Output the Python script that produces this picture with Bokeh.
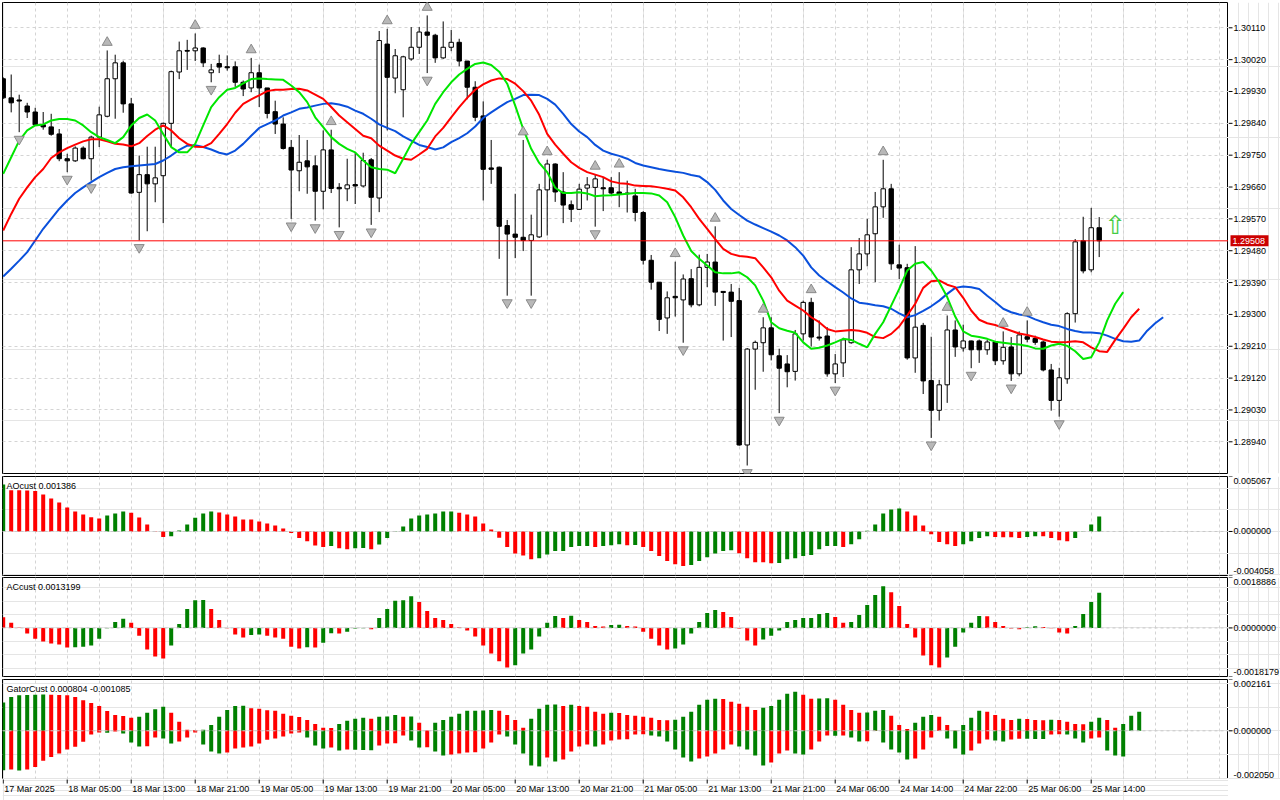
import numpy as np
from bokeh.plotting import figure
from bokeh.models import Range1d, FixedTicker, Span, Label, Grid
from bokeh.layouts import column, row
from bokeh.embed import file_html
from bokeh.resources import INLINE
from bokeh.core.properties import value

# ---------------- data (prices in points = 1e-5) ----------------
OPEN_PTS = [129966,129912,129906,129889,129872,129836,129830,129810,129740,129734,
            129770,129740,129801,129860,129966,130011,129895,129645,129695,129669,
            129692,129840,129985,130046,130045,130053,129983,130009,130000,130000,
            129956,129940,129983,129940,129873,129838,129772,129706,129734,129720,
            129648,129765,129659,129655,129667,129663,129737,129629,130064,129968,
            129935,130022,130055,130098,130089,130025,130055,130069,130016,129942,
            129861,129714,129716,129551,129527,129518,129509,129519,129652,129725,
            129646,129610,129597,129657,129659,129658,129658,129646,129643,129635,
            129588,129453,129391,129290,129351,129341,129401,129327,129433,129448,
            129365,129363,129339,128931,129202,129220,129262,129183,129160,129139,
            129245,129334,129236,129239,129132,129163,129220,129426,129471,129528,
            129604,129655,129440,129432,129177,129269,129113,129029,129101,129256,
            129205,129225,129225,129200,129222,129169,129208,129132,129237,129232,
            129222,129143,129057,129118,129302,129508,129426,129545]
HIGH_PTS = [129970,129978,129921,129898,129884,129872,129867,129824,129754,129775,
            129775,129805,129887,130046,130034,130017,129912,129749,129774,129774,
            129842,129989,130071,130076,130094,130055,130008,130034,130032,130015,
            129961,130025,130006,129940,129904,129857,129793,129807,129793,129749,
            129820,129822,129671,129740,129757,129757,129742,130101,130107,130050,
            130031,130112,130112,130145,130093,130128,130104,130079,130016,129959,
            129902,129793,129718,129567,129641,129793,129582,129669,129737,129727,
            129702,129622,129669,129688,129696,129688,129688,129702,129678,129655,
            129592,129468,129391,129365,129449,129413,129428,129469,129471,129549,
            129365,129386,129375,129205,129226,129292,129292,129203,129185,129256,
            129339,129347,129283,129264,129188,129234,129490,129516,129570,129646,
            129737,129669,129497,129443,129493,129276,129237,129115,129297,129283,
            129271,129226,129229,129228,129225,129252,129236,129252,129283,129240,
            129226,129160,129149,129306,129513,129576,129601,129575]
LOW_PTS = [129909,129871,129815,129855,129833,129822,129805,129733,129702,129731,
           129738,129678,129773,129857,129853,129870,129641,129509,129535,129617,
           129558,129773,129965,129991,130016,129999,129956,129982,129989,129943,
           129917,129928,129886,129854,129810,129766,129570,129648,129641,129565,
           129597,129643,129546,129620,129612,129659,129553,129589,129820,129925,
           129857,130017,130036,129982,130011,130022,130044,130001,129908,129846,
           129622,129669,129457,129353,129459,129479,129353,129516,129523,129618,
           129558,129561,129595,129622,129548,129592,129638,129603,129588,129563,
           129441,129370,129253,129245,129294,129220,129320,129323,129377,129324,
           129226,129236,128929,128873,129087,129138,129170,129021,129094,129113,
           129226,129209,129226,129124,129106,129123,129217,129386,129436,129391,
           129573,129426,129400,129172,129135,129075,128951,129000,129050,129180,
           129195,129148,129163,129186,129157,129158,129112,129125,129221,129214,
           129139,129028,129011,129104,129277,129416,129419,129462]
CLOSE_PTS = [129912,129898,129903,129872,129836,129830,129809,129740,129734,129770,
             129740,129801,129864,129966,130011,129895,129643,129695,129669,129686,
             129840,129986,130045,130044,130053,130011,129991,129999,129997,129956,
             129937,129983,129940,129868,129838,129769,129708,129730,129717,129648,
             129765,129656,129655,129666,129663,129735,129631,130074,129970,130031,
             130028,130055,130098,130089,130025,130055,130069,130016,129942,129857,
             129710,129710,129549,129527,129518,129509,129525,129652,129725,129646,
             129609,129597,129654,129666,129683,129655,129643,129640,129641,129588,
             129453,129391,129286,129347,129347,129400,129327,129433,129448,129363,
             129362,129337,128931,129202,129221,129262,129186,129148,129138,129245,
             129334,129236,129233,129132,129160,129228,129426,129471,129525,129604,
             129655,129443,129431,129177,129264,129112,129029,129101,129256,129208,
             129225,129200,129200,129222,129169,129207,129132,129242,129230,129221,
             129143,129057,129121,129302,129505,129423,129545,129508]

# Alligator lines (already shifted forward: jaw +8, teeth +5, lips +3)
JAW_PTS = [129407,129429,129452,129476,129509,129542,129570,129598,129622,129643,
           129659,129674,129688,129700,129711,129716,129719,129721,129723,129725,
           129735,129749,129765,129777,129778,129773,129766,129757,129752,129763,
           129782,129805,129827,129838,129848,129862,129871,129881,129885,129890,
           129895,129897,129893,129887,129876,129867,129853,129837,129827,129818,
           129803,129791,129779,129773,129766,129772,129787,129798,129812,129831,
           129855,129871,129886,129900,129909,129920,129921,129920,129909,129893,
           129867,129838,129817,129801,129779,129763,129754,129748,129740,129728,
           129721,129716,129711,129707,129703,129700,129694,129690,129674,129652,
           129622,129598,129581,129565,129554,129544,129534,129523,129509,129490,
           129466,129433,129410,129393,129377,129362,129345,129333,129330,129326,
           129323,129316,129303,129292,129298,129310,129323,129339,129358,129375,
           129379,129377,129372,129353,129335,129316,129306,129300,129296,129286,
           129278,129271,129267,129259,129253,129249,129249,129247,129240,129231,
           129224,129223,129226,129254,129275,129292]
TEETH_PTS = [129537,129584,129627,129659,129688,129711,129742,129758,129770,129780,
             129789,129795,129795,129789,129782,129780,129775,129784,129804,129822,
             129834,129820,129798,129782,129774,129773,129784,129810,129838,129870,
             129895,129908,129919,129931,129935,129935,129937,129938,129933,129921,
             129909,129886,129862,129843,129824,129805,129798,129777,129763,129749,
             129740,129737,129752,129768,129803,129827,129857,129886,129912,129935,
             129950,129961,129967,129965,129952,129931,129904,129864,129810,129780,
             129754,129730,129714,129702,129695,129688,129676,129671,129669,129664,
             129663,129662,129659,129655,129650,129631,129603,129570,129542,129513,
             129485,129471,129465,129463,129459,129433,129405,129367,129339,129325,
             129311,129292,129278,129259,129252,129254,129256,129254,129248,129236,
             129233,129245,129266,129297,129330,129375,129394,129396,129384,129377,
             129347,129311,129285,129275,129270,129262,129254,129246,129242,129236,
             129229,129223,129221,129222,129224,129221,129207,129196,129194,129228,
             129259,129292,129316]
LIPS_PTS = [129697,129744,129791,129820,129834,129837,129848,129852,129852,129848,
            129834,129815,129801,129793,129784,129801,129834,129855,129865,129848,
            129810,129773,129758,129758,129782,129834,129886,129914,129935,129940,
            129953,129965,129967,129965,129964,129963,129947,129928,129900,129857,
            129829,129801,129782,129768,129758,129735,129716,129711,129709,129699,
            129740,129782,129815,129848,129895,129928,129956,129978,129994,130008,
            130012,130005,129986,129952,129890,129824,129768,129728,129702,129658,
            129643,129643,129645,129642,129634,129636,129637,129639,129641,129643,
            129643,129642,129636,129617,129575,129523,129479,129457,129438,129419,
            129416,129416,129419,129405,129382,129339,129278,129261,129254,129248,
            129221,129203,129206,129212,129221,129231,129228,129217,129207,129245,
            129278,129325,129372,129424,129443,129448,129424,129391,129349,129294,
            129252,129240,129236,129231,129223,129220,129217,129215,129211,129204,
            129203,129212,129217,129211,129196,129174,129179,129221,129283,129330,
            129363]

FRACTAL_UP = [13, 24, 31, 41, 48, 53, 65, 68, 74, 77, 84, 89, 95, 101, 110, 118, 125, 128]
FRACTAL_DN = [2, 8, 11, 17, 26, 36, 39, 42, 46, 53, 63, 66, 74, 85, 93, 97, 104, 116, 121, 126, 132]
SIGNAL_BAR = 139
SIGNAL_PRICE = 1.29554
LAST_PRICE = 1.29508

# indicators in units of 1e-4
AO_E4 = [43.3,38.1,38.0,37.8,37.2,34.1,30.4,26.7,22.1,18.4,
         15.7,13.2,12.0,14.7,16.6,18.4,17.2,12.9,6.5,0.3,
         -5.2,-4.3,0.9,6.5,12.6,16.6,18.4,17.5,15.7,13.8,
         11.1,11.0,9.2,7.4,5.5,2.8,-1.5,-6.1,-8.9,-12.9,
         -14.4,-13.5,-15.4,-16.3,-15.4,-15.3,-16.3,-12.0,-6.1,0.2,
         4.6,12.0,14.7,15.7,16.6,18.4,18.5,17.2,15.7,13.8,
         7.4,1.8,-5.8,-14.4,-20.3,-22.1,-25.5,-24.6,-21.2,-18.1,
         -18.0,-14.4,-13.5,-13.4,-14.4,-13.5,-12.6,-11.7,-12.6,-12.5,
         -14.4,-18.1,-22.7,-27.3,-30.1,-31.9,-31.0,-27.3,-23.7,-20.3,
         -18.1,-17.2,-20.0,-24.6,-28.3,-28.4,-29.2,-29.1,-25.5,-24.6,
         -22.7,-21.8,-16.3,-13.5,-13.4,-14.4,-11.7,-7.1,0.6,6.5,
         16.6,20.3,21.2,18.4,14.7,5.5,-2.5,-9.8,-11.7,-13.5,
         -11.7,-8.9,-6.1,-4.3,-5.2,-5.3,-5.4,-6.1,-5.2,-4.3,
         -4.4,-6.1,-8.0,-8.9,-6.1,-0.3,6.5,13.86]
AO_PREV_E4 = 42.0
AC_E4 = [4.0,1.9,0.1,-2.1,-4.0,-5.1,-5.8,-6.2,-7.3,-7.25,
         -7.0,-6.6,-4.0,-0.1,2.2,3.4,1.9,-2.9,-8.1,-10.7,
         -11.4,-6.6,1.5,7.1,10.4,10.45,7.1,3.0,-0.1,-2.5,
         -3.6,-2.6,-2.5,-2.9,-3.6,-4.0,-7.0,-7.7,-7.2,-7.3,
         -5.5,-2.0,-2.1,-1.4,-0.2,-0.1,-0.5,3.7,7.1,10.2,
         10.4,11.9,9.7,6.3,3.7,3.0,1.5,0.2,-1.0,-3.2,
         -6.6,-9.6,-12.5,-14.8,-14.0,-9.6,-8.1,-3.2,1.9,4.5,
         3.7,4.6,3.0,2.2,0.7,0.5,1.1,1.15,0.7,0.5,
         -1.4,-4.0,-6.6,-8.1,-7.7,-6.2,-2.1,2.2,5.6,6.7,
         6.0,4.1,-0.2,-4.7,-6.6,-4.3,-2.9,-1.0,2.2,3.0,
         3.7,3.75,5.2,5.6,4.1,1.9,2.2,4.8,8.6,12.3,
         15.6,13.4,8.2,1.5,-3.6,-10.3,-14.0,-14.8,-11.1,-7.0,
         -1.7,1.9,4.5,4.4,2.2,0.7,-0.2,-0.5,0.2,0.6,
         0.4,-0.1,-1.7,-2.1,0.7,5.2,9.7,13.199]
AC_PREV_E4 = 4.5
GATOR_UP_E4 = [11.9,14.2,15.0,15.1,15.2,15.25,15.2,15.1,15.0,14.2,
               12.9,11.7,10.4,8.3,6.7,6.2,5.5,5.9,7.6,9.1,
               10.1,7.6,3.8,0.4,0.3,0.5,2.5,5.9,8.8,10.5,
               10.6,9.5,9.3,8.7,8.4,7.2,6.3,5.8,4.6,2.9,
               1.3,1.2,2.9,4.2,5.1,5.5,5.1,5.9,6.0,6.7,
               5.9,6.0,3.4,0.1,3.4,4.6,5.9,7.2,8.4,8.5,
               8.6,8.8,8.4,6.7,4.6,1.3,5.1,9.3,11.0,11.1,
               10.5,11.0,10.5,10.1,8.0,7.2,7.6,7.5,6.7,6.3,
               5.9,5.5,4.6,4.5,4.7,5.9,8.0,11.0,13.1,13.5,
               13.4,12.2,11.4,10.1,8.8,9.7,10.5,13.1,15.6,16.4,
               15.2,13.5,13.6,13.7,13.1,11.0,8.8,7.6,7.7,8.4,
               8.8,6.3,2.5,0.8,3.4,5.9,6.7,5.9,2.5,0.1,
               2.5,5.5,8.4,8.0,6.7,5.1,4.6,5.1,5.0,4.6,
               4.5,4.7,4.6,3.8,2.9,2.8,3.8,5.5,4.6,1.3,
               2.9,6.3,8.04]
GATOR_UP_PREV_E4 = 11.0
GATOR_DN_E4 = [-16.6,-16.3,-16.7,-16.3,-15.2,-12.6,-11.0,-9.5,-7.9,-6.7,
               -4.6,-1.5,-0.7,-0.8,-0.3,-1.1,-4.9,-6.6,-6.5,-2.8,
               -3.2,-5.3,-4.5,-2.8,-0.7,-5.8,-8.7,-9.5,-9.1,-7.4,
               -7.0,-6.6,-5.3,-3.8,-3.2,-2.4,-1.1,-0.7,-2.8,-6.2,
               -7.4,-7.0,-8.3,-7.9,-8.0,-8.1,-8.2,-6.2,-5.3,-5.2,
               -2.0,-4.1,-7.0,-6.9,-8.7,-10.4,-10.0,-9.5,-9.1,-9.0,
               -7.4,-4.9,-1.5,-2.4,-5.8,-9.5,-14.6,-15.0,-11.2,-12.9,
               -12.1,-8.7,-6.6,-5.8,-6.6,-5.8,-4.1,-3.7,-3.6,-1.5,
               -1.4,-2.0,-2.4,-4.5,-7.9,-11.2,-12.9,-11.7,-10.8,-9.5,
               -7.9,-5.8,-6.6,-7.9,-10.4,-14.6,-13.3,-9.5,-8.3,-9.5,
               -10.0,-7.9,-4.5,-2.0,-2.1,-2.0,-2.8,-4.5,-4.4,-0.1,
               -4.9,-7.9,-9.1,-12.1,-11.7,-7.9,-2.8,-0.1,-3.2,-7.4,
               -10.0,-8.3,-5.3,-3.7,-4.1,-4.5,-3.7,-3.3,-3.35,-3.4,
               -3.45,-1.6,-1.4,-1.6,-3.2,-4.9,-3.2,-2.8,-8.3,-10.4,
               -10.85]
GATOR_DN_PREV_E4 = -15.0

PRICE_TICKS = [1.28940, 1.29030, 1.29120, 1.29210, 1.29300, 1.29390, 1.29480,
               1.29570, 1.29660, 1.29750, 1.29840, 1.29930, 1.30020, 1.30110]
PRICE_RANGE = (1.288504, 1.301815)
AO_RANGE = (-0.004058, 0.005067)
AC_RANGE = (-0.0018179, 0.0018886)
GATOR_RANGE = (-0.002050, 0.002161)
TIME_TICKS = list(range(0, 137, 8))
TIME_LABELS = ["17 Mar 2025", "18 Mar 05:00", "18 Mar 13:00", "18 Mar 21:00",
               "19 Mar 05:00", "19 Mar 13:00", "19 Mar 21:00", "20 Mar 05:00",
               "20 Mar 13:00", "20 Mar 21:00", "21 Mar 05:00", "21 Mar 13:00",
               "21 Mar 21:00", "24 Mar 06:00", "24 Mar 14:00", "24 Mar 22:00",
               "25 Mar 06:00", "25 Mar 14:00"]

# ---------------- styling / geometry ----------------
FONT = "Liberation Sans"
FS = "9px"
GREEN = "#008000"
RED = "#ff0000"
GRID_COLOR = "#d4d4d4"
LEFT = 2          # left border (px)
FW = 1226         # frame width of every panel (px)
AXW = 52          # width of the price-scale column (px)
BAR_PX = 8        # horizontal distance between bars (px)
X0 = -0.0875
XR = Range1d(X0, X0 + FW / BAR_PX)
VGRID_TICKS = list(range(4, 156, 4))
BASELINE_SHIFT = {"top": 1, "middle": 0, "bottom": -2}


def panel_fig(fh, yr, top, bottom, xr=XR, fw=FW, left=LEFT):
    p = figure(x_range=xr, y_range=yr, frame_width=fw, frame_height=fh,
               output_backend="svg", toolbar_location=None,
               y_axis_location=None, x_axis_location=None,
               min_border_left=left, min_border_right=0,
               min_border_top=top, min_border_bottom=bottom,
               background_fill_color="white", border_fill_color="white")
    return p


def add_vgrid(p):
    p.add_layout(Grid(dimension=0, ticker=FixedTicker(ticks=VGRID_TICKS),
                      grid_line_color=GRID_COLOR, grid_line_dash="3 3"))


def scale_fig(fh, yr, top, bottom, ticks, labels, baselines):
    """price-scale column to the right of a panel, sharing its y range"""
    s = panel_fig(fh, yr, top, bottom, xr=Range1d(0, AXW), fw=AXW, left=0)
    s.outline_line_color = None
    s.segment(x0=[0] * len(ticks), y0=ticks, x1=[4] * len(ticks), y1=ticks,
              line_color="black", line_width=1)
    for t, lab, bl in zip(ticks, labels, baselines):
        s.text(x=[5], y=[t], text=[lab], text_font=value(FONT), text_font_size=FS,
               text_color="black", text_align="left", text_baseline=bl,
               y_offset=BASELINE_SHIFT[bl])
    return s


def rise_colors(vals, prev, use_abs=False):
    cols = []
    last = prev
    for v in vals:
        a, b = (abs(v), abs(last)) if use_abs else (v, last)
        cols.append(GREEN if a > b else RED)
        last = v
    return cols


# ---------------- main price panel ----------------
o = np.array(OPEN_PTS) / 1e5
h = np.array(HIGH_PTS) / 1e5
l = np.array(LOW_PTS) / 1e5
c = np.array(CLOSE_PTS) / 1e5
idx = np.arange(len(c))
inc = c >= o
dec = ~inc

MAIN_FH = 471
YR_MAIN = Range1d(*PRICE_RANGE)
p1 = panel_fig(MAIN_FH, YR_MAIN, top=2, bottom=2)
p1.outline_line_color = "black"
add_vgrid(p1)
p1.add_layout(Grid(dimension=1, ticker=FixedTicker(ticks=PRICE_TICKS),
                   grid_line_color=GRID_COLOR, grid_line_dash="3 3"))

p1.segment(idx, h, idx, l, line_color="black", line_width=1)
p1.vbar(x=idx[inc], width=0.55, top=c[inc], bottom=o[inc],
        fill_color="white", line_color="black", line_width=1)
p1.vbar(x=idx[dec], width=0.55, top=o[dec], bottom=c[dec],
        fill_color="black", line_color="black", line_width=1)

p1.line(np.arange(len(JAW_PTS)), np.array(JAW_PTS) / 1e5, line_color="#0a50dc", line_width=2)
p1.line(np.arange(len(TEETH_PTS)), np.array(TEETH_PTS) / 1e5, line_color="#ff0000", line_width=2)
p1.line(np.arange(len(LIPS_PTS)), np.array(LIPS_PTS) / 1e5, line_color="#00e600", line_width=2)

price_per_px = (PRICE_RANGE[1] - PRICE_RANGE[0]) / MAIN_FH
fu = np.array(FRACTAL_UP)
fd = np.array(FRACTAL_DN)
p1.scatter(fu, h[fu] + 8 * price_per_px, marker="triangle", size=10,
           fill_color="#b8b8b8", line_color="#8a8a8a", line_width=1)
p1.scatter(fd, l[fd] - 7 * price_per_px, marker="inverted_triangle", size=10,
           fill_color="#b8b8b8", line_color="#8a8a8a", line_width=1)

p1.add_layout(Span(location=LAST_PRICE, dimension="width", line_color="#ff0000", line_width=1))
p1.text(x=[SIGNAL_BAR], y=[SIGNAL_PRICE], text=["\u21e7"], text_font=value("DejaVu Sans"),
        text_font_size="26px", text_color="#44cc44", text_align="center", text_baseline="middle")

pa = scale_fig(MAIN_FH, YR_MAIN, 2, 2, PRICE_TICKS, ["%.5f" % t for t in PRICE_TICKS],
               ["middle"] * len(PRICE_TICKS))
pa.rect(x=[21], y=[LAST_PRICE], width=38, height=11, width_units="screen", height_units="screen",
        fill_color="#cc0000", line_color=None)
pa.text(x=[4], y=[LAST_PRICE], text=["%.5f" % LAST_PRICE], text_font=value(FONT),
        text_font_size=FS, text_color="white", text_align="left", text_baseline="middle")


# ---------------- indicator panels ----------------
def sub_panel(yr, fh, top, bottom, fmt, title):
    rng = Range1d(*yr)
    p = panel_fig(fh, rng, top, bottom)
    p.outline_line_color = "black"
    add_vgrid(p)
    p.add_layout(Span(location=0, dimension="width", line_color="#c8c8c8",
                      line_dash="3 3", line_width=1))
    p.add_layout(Label(x=X0 + 4 / BAR_PX, y=yr[1] - 4 * (yr[1] - yr[0]) / fh,
                       text=title, text_font=FONT, text_font_size=FS, text_color="black",
                       text_baseline="top", text_align="left"))
    ticks = [yr[1], 0.0, yr[0]]
    s = scale_fig(fh, rng, top, bottom, ticks, [fmt % t for t in ticks],
                  ["top", "middle", "bottom"])
    return p, s


ao = np.array(AO_E4) * 1e-4
p2, s2 = sub_panel(AO_RANGE, 99, 1, 1, "%.6f", "AOcust %.6f" % ao[-1])
p2.vbar(x=np.arange(len(ao)), width=0.5, top=ao, bottom=0,
        fill_color=rise_colors(AO_E4, AO_PREV_E4), line_color=None)

ac = np.array(AC_E4) * 1e-4
p3, s3 = sub_panel(AC_RANGE, 99, 1, 2, "%.7f", "ACcust %.7f" % ac[-1])
p3.vbar(x=np.arange(len(ac)), width=0.5, top=ac, bottom=0,
        fill_color=rise_colors(AC_E4, AC_PREV_E4), line_color=None)

gu = np.array(GATOR_UP_E4) * 1e-4
gd = np.array(GATOR_DN_E4) * 1e-4
p4, s4 = sub_panel(GATOR_RANGE, 100, 1, 0, "%.6f",
                   "GatorCust %.6f %.6f" % (gu[-1], gd[-1]))
p4.vbar(x=np.arange(len(gu)), width=0.5, top=gu, bottom=0,
        fill_color=rise_colors(GATOR_UP_E4, GATOR_UP_PREV_E4), line_color=None)
p4.vbar(x=np.arange(len(gd)), width=0.5, top=0, bottom=gd,
        fill_color=rise_colors(GATOR_DN_E4, GATOR_DN_PREV_E4, use_abs=True), line_color=None)

# ---------------- time scale ----------------
STRIP_H = 21
pt = panel_fig(STRIP_H, Range1d(0, STRIP_H), top=0, bottom=0)
pt.outline_line_color = None
pt.segment(x0=TIME_TICKS, y0=[STRIP_H + 2] * len(TIME_TICKS), x1=TIME_TICKS,
           y1=[STRIP_H - 4] * len(TIME_TICKS), line_color="black", line_width=1)
pt.text(x=TIME_TICKS, y=[STRIP_H - 9] * len(TIME_TICKS), text=TIME_LABELS, x_offset=1,
        text_font=value(FONT), text_font_size=FS, text_color="black",
        text_align="left", text_baseline="middle")

layout = column(row(p1, pa, spacing=0), row(p2, s2, spacing=0), row(p3, s3, spacing=0),
                row(p4, s4, spacing=0), pt, spacing=0)
open("out.html", "w").write(file_html(layout, INLINE))
